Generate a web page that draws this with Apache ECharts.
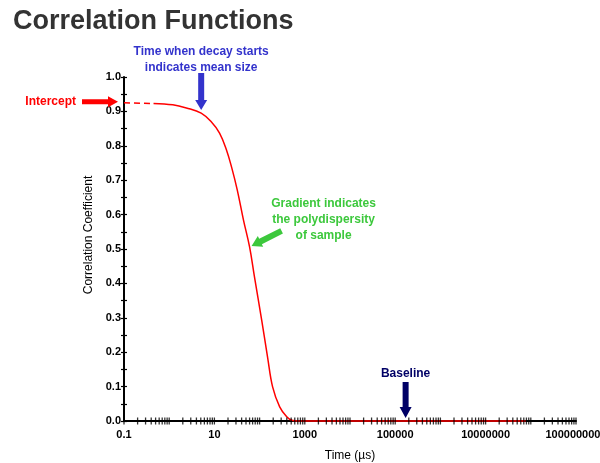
<!DOCTYPE html>
<html>
<head>
<meta charset="utf-8">
<script src="https://cdn.jsdelivr.net/npm/echarts@6/dist/echarts.min.js"></script>
<style>
html,body{margin:0;padding:0;background:#fff;}
#chart{width:600px;height:463px;}
</style>
</head>
<body>
<div id="chart"></div>
<script>
// ---- data ----
var timeUs = [0.45, 1.2, 2.4, 5.1, 8.6, 13, 18.5, 24, 32, 44, 60, 77, 111, 150, 194, 278, 398, 514, 700];
var corr   = [0.923, 0.919, 0.910, 0.895, 0.869, 0.837, 0.788, 0.738, 0.672, 0.584, 0.506, 0.419, 0.294, 0.186, 0.099, 0.041, 0.012, 0.002, 0];
var baselineTimes = [700, 7.7e7];
var baselineValues = [0, 0];
var interceptTime = [0.1, 0.45];
var interceptValue = [0.925, 0.923];
var xTickLabels = ['0.1', '10', '1000', '100000', '10000000', '1000000000'];
var tickDecades = [-1, 0, 1, 2, 3, 4, 5, 6, 7, 8];
var tickMultipliers = [1, 2, 3, 4, 5, 6, 7, 8, 9];
var baselineArrowTime = 1.7e5;

var FONT = '"Liberation Sans", Arial, sans-serif';

var curveData = timeUs.map(function (t, i) { return [t, corr[i]]; });
var baseData = baselineTimes.map(function (t, i) { return [t, baselineValues[i]]; });
var interceptData = interceptTime.map(function (t, i) { return [t, interceptValue[i]]; });
var tickData = [];
tickDecades.forEach(function (d) {
  tickMultipliers.forEach(function (m) { tickData.push([m * Math.pow(10, d), 0]); });
});
tickData.push([1e9, 0]);

var chart = echarts.init(document.getElementById('chart'), null, {renderer: 'canvas'});

var yBase = {
  type: 'value', min: 0, max: 1, interval: 0.05, position: 'left',
  splitLine: {show: false}
};

chart.setOption({
  animation: false,
  backgroundColor: '#ffffff',
  title: {
    text: 'Correlation Functions', left: 13, top: 8, padding: 0,
    textStyle: {fontFamily: FONT, fontSize: 27, fontWeight: 'bold', color: '#333333'}
  },
  grid: {left: 124, right: 24, top: 77, bottom: 42, containLabel: false, outerBoundsMode: 'none'},
  xAxis: {
    type: 'log', logBase: 10, min: 0.1, max: 1e9, splitNumber: 10,
    name: 'Time (µs)', nameLocation: 'middle', nameGap: 29,
    nameTextStyle: {fontFamily: FONT, fontSize: 12, color: '#000'},
    axisLine: {lineStyle: {color: '#000', width: 2}},
    axisTick: {show: false},
    splitLine: {show: false},
    axisLabel: {
      fontFamily: FONT, fontSize: 11, fontWeight: 'bold', color: '#000', margin: 8,
      formatter: function (v) {
        var e = Math.round(Math.log10(v));
        if (Math.abs(e % 2) === 1) { return xTickLabels[(e + 1) / 2] || ''; }
        return '';
      }
    }
  },
  yAxis: [
    Object.assign({}, yBase, {
      name: 'Correlation Coefficient', nameLocation: 'middle', nameGap: 25,
      nameTextStyle: {fontFamily: FONT, fontSize: 12, color: '#000', padding: [0, 0, 0, 28]},
      axisLine: {show: true, lineStyle: {color: '#000', width: 2}},
      axisTick: {show: true, length: 3, lineStyle: {color: '#000', width: 1.2}},
      axisLabel: {
        fontFamily: FONT, fontSize: 11, fontWeight: 'bold', color: '#000', margin: 3,
        formatter: function (v) {
          var r = Math.round(v * 100);
          return r % 10 === 0 ? (r / 100).toFixed(1) : '';
        }
      }
    }),
    Object.assign({}, yBase, {
      axisLine: {show: false},
      axisTick: {show: true, inside: true, length: 3, lineStyle: {color: '#000', width: 1.2}},
      axisLabel: {show: false}
    })
  ],
  series: [
    {
      type: 'line', data: interceptData, showSymbol: false, clip: false, z: 3,
      lineStyle: {color: '#ff0000', width: 1.5, type: [6, 4]}
    },
    {
      type: 'line', data: curveData, showSymbol: false, clip: false, z: 3,
      smooth: 0.4,
      lineStyle: {color: '#ff0000', width: 1.5}
    },
    {
      type: 'line', data: baseData, showSymbol: false, clip: false, z: 3,
      lineStyle: {color: '#ff0000', width: 1.5}
    },
    {
      type: 'scatter', data: tickData, symbol: 'rect', symbolSize: [1.3, 7],
      clip: false, z: 4, silent: true,
      itemStyle: {color: '#000'}
    }
  ]
});

// ---- annotations anchored to data points ----
function px(t, v) { return chart.convertToPixel({gridIndex: 0}, [t, v]); }
function arrow(x1, y1, x2, y2, w, hw, hl, color) {
  var dx = x2 - x1, dy = y2 - y1, L = Math.sqrt(dx * dx + dy * dy);
  var ux = dx / L, uy = dy / L, nx = -uy, ny = ux;
  var bx = x2 - ux * hl, by = y2 - uy * hl;
  var pts = [
    [x1 + nx * w / 2, y1 + ny * w / 2],
    [bx + nx * w / 2, by + ny * w / 2],
    [bx + nx * hw / 2, by + ny * hw / 2],
    [x2, y2],
    [bx - nx * hw / 2, by - ny * hw / 2],
    [bx - nx * w / 2, by - ny * w / 2],
    [x1 - nx * w / 2, y1 - ny * w / 2]
  ];
  return {type: 'polygon', shape: {points: pts}, style: {fill: color}, z: 10};
}
function label(text, x, y, color, align) {
  return {
    type: 'text', x: x, y: y, z: 10,
    style: {
      text: text, fill: color, font: 'bold 12px ' + FONT,
      align: align || 'center', verticalAlign: 'middle', lineHeight: 16
    }
  };
}

var pI = px(interceptTime[0], interceptValue[0]);
var pD = px(timeUs[3], corr[3]);
var pG = px(timeUs[10], corr[10]);
var pB = px(baselineArrowTime, 0);

var RED = '#ff0000', BLUE = '#3333cc', GREEN = '#3cc83c', NAVY = '#000066';

chart.setOption({
  graphic: [
    arrow(pI[0] - 42, pI[1] - 1, pI[0] - 6, pI[1] - 1, 5, 11, 10, RED),
    label('Intercept', pI[0] - 48, pI[1] - 1, RED, 'right'),
    arrow(pD[0], pD[1] - 40, pD[0], pD[1] - 3, 6, 12, 10, BLUE),
    label('Time when decay starts\nindicates mean size', pD[0], pD[1] - 53, BLUE),
    arrow(pG[0] + 32, pG[1] - 16, pG[0] + 2, pG[1] - 1, 6, 12, 10, GREEN),
    label('Gradient indicates\nthe polydispersity\nof sample', pG[0] + 74, pG[1] - 27, GREEN),
    arrow(pB[0], pB[1] - 39, pB[0], pB[1] - 3, 6, 12, 11, NAVY),
    label('Baseline', pB[0], pB[1] - 47, NAVY)
  ]
});
</script>
</body>
</html>
